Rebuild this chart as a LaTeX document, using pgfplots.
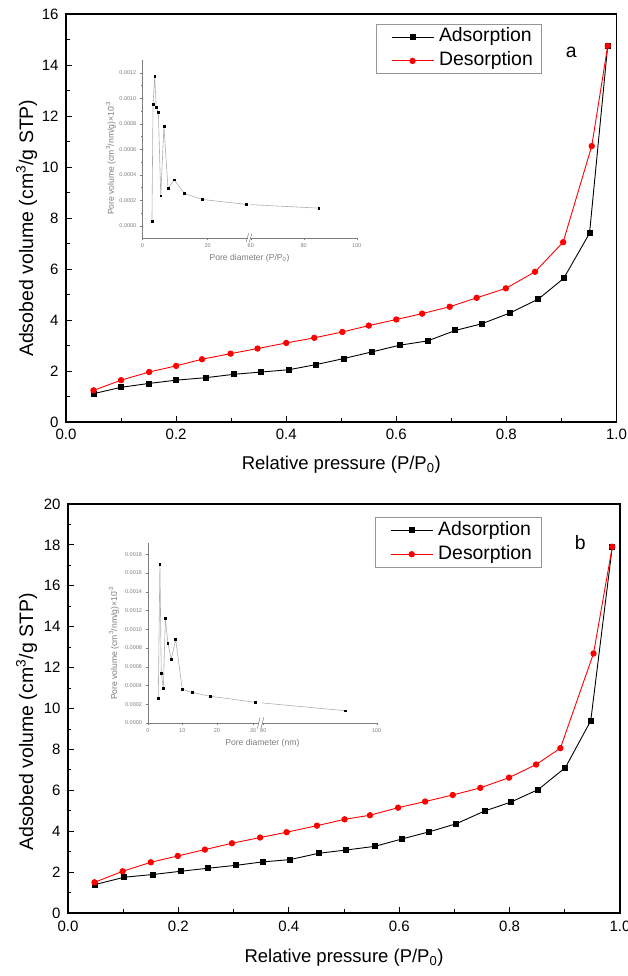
\documentclass[border=0pt]{standalone}
\usepackage{fontspec}
\setmainfont{Liberation Sans}
\usepackage{pgfplots}
\pgfplotsset{compat=1.18}
\definecolor{insgray}{RGB}{125,125,125}
\definecolor{inline}{RGB}{175,175,175}
\definecolor{legframe}{RGB}{150,150,150}
\pgfplotsset{
 mainax/.style={scale only axis, anchor=south west, xmin=0, xmax=1,
   xtick={0,0.2,0.4,0.6,0.8,1.0}, xticklabels={0.0,0.2,0.4,0.6,0.8,1.0},
   minor x tick num=1, minor y tick num=1, tick align=inside,
   xtick pos=left, ytick pos=left, major tick length=6pt, minor tick length=3.5pt,
   tick style={black, line width=0.8pt}, axis line style={line width=1.2pt},
   ticklabel style={font=\fontsize{15}{18}\selectfont},
   xticklabel style={yshift=-4pt}, yticklabel style={xshift=-4pt},
   label style={font=\fontsize{18.5}{22}\selectfont},
   ylabel style={font=\fontsize{19.5}{23}\selectfont},
   /pgf/number format/assume math mode=true,
   xlabel={Relative pressure (P/P\textsubscript{0})},
   ylabel={Adsobed volume (cm\textsuperscript{3}/g STP)},
   legend cell align=left,
   legend image code/.code={\path (0pt,0pt); \draw[mark repeat=2,mark phase=2,##1] plot coordinates {(7pt,0pt) (28pt,0pt) (49pt,0pt)};},
   legend style={anchor=north west, draw=legframe, line width=0.8pt,
     font=\fontsize{19.4}{23}\selectfont, inner xsep=8pt, inner ysep=2.6pt,
     nodes={inner xsep=1pt, inner ysep=1pt, text height=14pt, text depth=4.3pt},
     column sep=4pt, row sep=3.5pt},
 },
 adsst/.style={black, line width=0.9pt, mark=square*, mark size=2.5pt},
 desst/.style={red, line width=0.9pt, mark=*, mark size=2.7pt},
 insax/.style={scale only axis, anchor=south west, clip=false,
   axis x line=bottom, axis y line=left,
   axis line style={insgray, line width=0.5pt, -},
   x axis line style={draw=none},
   tick style={insgray, line width=0.4pt}, tick align=outside,
   major tick length=2.5pt, minor tick length=1.5pt,
   ticklabel style={font=\fontsize{5.5}{6}\selectfont, text=insgray},
   label style={font=\fontsize{8.6}{10}\selectfont, text=insgray},
   xmin=0, xmax=100, scaled y ticks=false, minor y tick num=1,
   ylabel={Pore volume (cm\textsuperscript{3}/nm/g)×10\textsuperscript{-3}},
 },
 insplot/.style={inline, line width=0.6pt, mark=square*, mark size=0.9pt, mark options={black}},
}
\begin{document}
\begin{tikzpicture}
\path[use as bounding box] (0pt,0pt) rectangle (628pt,976pt);
% ---------------- panel a ----------------
\begin{axis}[mainax, at={(66pt,554pt)}, width=550.5pt, height=408pt,
  ymin=0, ymax=16, ytick={0,2,...,16},
  xlabel style={at={(axis description cs:0.5,-0.105)}, anchor=center},
  ylabel style={at={(axis description cs:-0.0717,0.475)}, anchor=center},
  legend style={at={(0.5626,0.9755)}}]
\addplot[adsst] coordinates {(0.05,1.11)(0.10,1.36)(0.15,1.51)(0.20,1.64)(0.255,1.74)(0.305,1.87)(0.355,1.96)(0.405,2.05)(0.454,2.25)(0.505,2.49)(0.556,2.75)(0.606,3.01)(0.657,3.18)(0.707,3.59)(0.755,3.85)(0.806,4.27)(0.858,4.82)(0.904,5.63)(0.951,7.40)(0.984,14.75)};
\addlegendentry{Adsorption}
\addplot[desst] coordinates {(0.05,1.24)(0.10,1.64)(0.151,1.96)(0.200,2.20)(0.247,2.46)(0.299,2.68)(0.348,2.88)(0.400,3.10)(0.451,3.30)(0.502,3.53)(0.550,3.78)(0.600,4.02)(0.647,4.25)(0.697,4.52)(0.746,4.87)(0.799,5.24)(0.852,5.89)(0.903,7.05)(0.955,10.82)(0.984,14.75)};
\addlegendentry{Desorption}
\node[font=\fontsize{19.4}{23}\selectfont] at (axis description cs:0.918,0.905) {a};
\end{axis}
% inset a
\begin{axis}[insax, at={(142.3pt,738pt)}, width=214.4pt, height=178pt,
  ymin=-0.0000963, ymax=0.0013,
  xtick={0,30.5,50.6,75.3,100}, xticklabels={0,20,60,80,100},
  minor xtick={15.25,45.9,63,87.7},
  ytick={0,0.0002,0.0004,0.0006,0.0008,0.0010,0.0012},
  yticklabels={0.0000,0.0002,0.0004,0.0006,0.0008,0.0010,0.0012},
  xlabel={Pore diameter (P/P\textsubscript{0})},
  xlabel style={at={(axis description cs:0.5,-0.114)}, anchor=center},
  ylabel style={at={(axis description cs:-0.147,0.449)}, anchor=center}]
\addplot[insplot] coordinates {(4.5,0.000034)(5.0,0.000954)(5.8,0.001171)(6.5,0.000931)(7.5,0.000889)(8.6,0.000235)(10.1,0.000782)(12.0,0.000292)(14.9,0.000360)(19.6,0.000253)(28.0,0.000206)(48.4,0.000167)(82.3,0.000138)};
\fill[white] (axis cs:49.3,0.00012) rectangle (axis cs:50.7,0.00021);
\draw[insgray, line width=0.5pt] (rel axis cs:0,0) -- (rel axis cs:0.492,0);
\draw[insgray, line width=0.5pt] (rel axis cs:0.503,0) -- (rel axis cs:1,0);
\draw[insgray, line width=0.5pt] (axis cs:48.4,-0.00013) -- (axis cs:49.6,-0.00006);
\draw[insgray, line width=0.5pt] (axis cs:49.9,-0.00013) -- (axis cs:51.1,-0.00006);
\end{axis}
% ---------------- panel b ----------------
\begin{axis}[mainax, at={(68pt,63pt)}, width=552pt, height=409pt,
  ymin=0, ymax=20, ytick={0,2,...,20},
  xlabel style={at={(axis description cs:0.5,-0.11)}, anchor=center},
  ylabel style={at={(axis description cs:-0.075,0.467)}, anchor=center},
  legend style={at={(0.556,0.9675)}}]
\addplot[adsst] coordinates {(0.049,1.39)(0.102,1.75)(0.153,1.88)(0.204,2.04)(0.254,2.19)(0.304,2.33)(0.353,2.50)(0.402,2.61)(0.454,2.92)(0.504,3.08)(0.556,3.26)(0.605,3.62)(0.653,3.96)(0.703,4.36)(0.755,4.99)(0.802,5.42)(0.852,6.04)(0.901,7.11)(0.947,9.40)(0.986,17.91)};
\addlegendentry{Adsorption}
\addplot[desst] coordinates {(0.048,1.50)(0.099,2.04)(0.150,2.48)(0.199,2.79)(0.248,3.10)(0.297,3.41)(0.348,3.69)(0.396,3.95)(0.451,4.27)(0.501,4.58)(0.547,4.78)(0.598,5.15)(0.647,5.45)(0.697,5.77)(0.747,6.12)(0.799,6.62)(0.848,7.26)(0.892,8.06)(0.952,12.69)(0.986,17.91)};
\addlegendentry{Desorption}
\node[font=\fontsize{19.4}{23}\selectfont] at (axis description cs:0.928,0.906) {b};
\end{axis}
% inset b
\begin{axis}[insax, at={(148pt,253pt)}, width=228.7pt, height=180pt,
  ymin=0, ymax=0.00192,
  xtick={0,15.0,30.1,46.0,50.4,100}, xticklabels={0,10,20,30,80,100},
  minor xtick={7.5,22.6,37.8,75.2},
  ytick={0,0.0002,0.0004,0.0006,0.0008,0.0010,0.0012,0.0014,0.0016,0.0018},
  yticklabels={0.0000,0.0002,0.0004,0.0006,0.0008,0.0010,0.0012,0.0014,0.0016,0.0018},
  minor y tick num=0,
  xlabel={Pore diameter (nm)},
  xlabel style={at={(axis description cs:0.5,-0.113)}, anchor=center},
  ylabel style={at={(axis description cs:-0.149,0.444)}, anchor=center}]
\addplot[insplot] coordinates {(4.5,0.000267)(5.2,0.00169)(5.8,0.000534)(6.7,0.000367)(7.6,0.001114)(8.7,0.000854)(10.2,0.000683)(12.1,0.00089)(15.0,0.000359)(19.2,0.000327)(27.2,0.000285)(46.9,0.000221)(86.3,0.000131)};
\fill[white] (axis cs:47.7,0.00017) rectangle (axis cs:49.8,0.00026);
\draw[insgray, line width=0.5pt] (rel axis cs:0,0) -- (rel axis cs:0.485,0);
\draw[insgray, line width=0.5pt] (rel axis cs:0.497,0) -- (rel axis cs:1,0);
\draw[insgray, line width=0.5pt] (axis cs:47.8,-0.00006) -- (axis cs:49.0,0.00006);
\draw[insgray, line width=0.5pt] (axis cs:49.4,-0.00006) -- (axis cs:50.6,0.00006);
\end{axis}
\end{tikzpicture}
\end{document}
